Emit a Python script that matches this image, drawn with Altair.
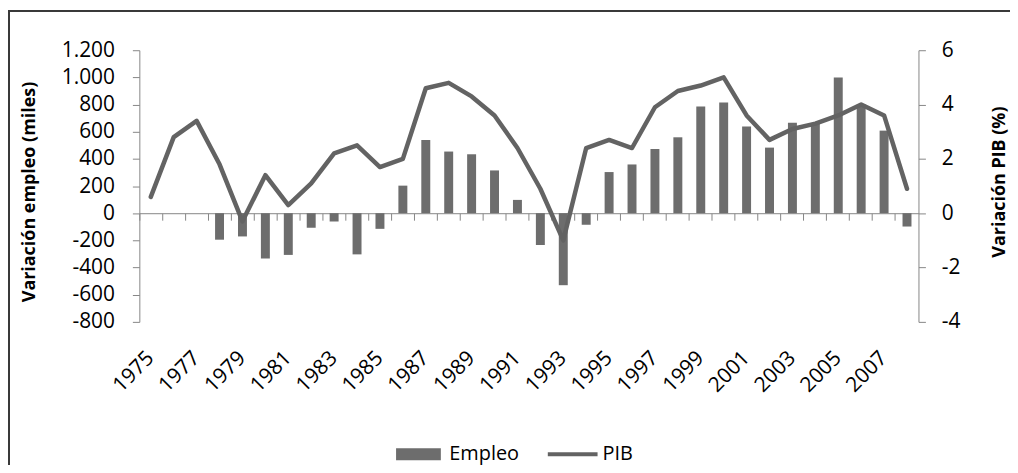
import altair as alt
import pandas as pd

years = [1975, 1976, 1977, 1978, 1979, 1980, 1981, 1982, 1983, 1984, 1985, 1986,
         1987, 1988, 1989, 1990, 1991, 1992, 1993, 1994, 1995, 1996, 1997, 1998,
         1999, 2000, 2001, 2002, 2003, 2004, 2005, 2006, 2007, 2008]
empleo = [0, 0, 0, -195, -171, -334, -307, -107, -61, -303, -115, 203,
          539, 454, 434, 315, 98, -234, -530, -85, 303, 359, 473, 559,
          786, 815, 639, 483, 666, 662, 1000, 800, 608, -98]
pib = [0.6, 2.8, 3.4, 1.8, -0.3, 1.4, 0.3, 1.1, 2.2, 2.5, 1.7, 2.0,
       4.6, 4.8, 4.3, 3.6, 2.4, 0.9, -1.0, 2.4, 2.7, 2.4, 3.9, 4.5,
       4.7, 5.0, 3.6, 2.7, 3.1, 3.3, 3.6, 4.0, 3.6, 0.9]
series = ["Empleo", "PIB"]
left_ticks = [-800, -600, -400, -200, 0, 200, 400, 600, 800, 1000, 1200]
right_ticks = [-4, -2, 0, 2, 4, 6]
label_years = [1975, 1977, 1979, 1981, 1983, 1985, 1987, 1989, 1991, 1993,
               1995, 1997, 1999, 2001, 2003, 2005, 2007]

df = pd.DataFrame({"year": years, "Empleo": empleo, "PIB": pib})
legend_df = pd.DataFrame({"serie": series})

FONT = "Open Sans"
GRAY = "#6d6d6d"
LINE_GRAY = "#636363"
AXIS_GRAY = "#868686"
W, H = 783, 273
zero_off = H - H * (1200 / 2000.0)  # distance from bottom to zero

xscale = alt.Scale(paddingInner=0, paddingOuter=0)

bars = alt.Chart(df).mark_bar(size=9, color=GRAY).encode(
    x=alt.X("year:O", scale=xscale, title=None,
            axis=alt.Axis(orient="bottom", values=label_years, labelAngle=-45,
                          labelAlign="right", labelBaseline="middle",
                          labelPadding=33, ticks=False, domain=False,
                          labelFont=FONT, labelFontSize=21, labelColor="black")),
    y=alt.Y("Empleo:Q", scale=alt.Scale(domain=[-800, 1200], nice=False, zero=False),
            title="Variación empleo (miles)",
            axis=alt.Axis(orient="left", values=left_ticks, grid=False,
                          labelExpr="replace(replace(format(datum.value, ','), ',', '.'), '\u2212', '-')",
                          tickSize=7, tickColor=AXIS_GRAY, domainColor=AXIS_GRAY,
                          labelPadding=18, labelFont=FONT, labelFontSize=21,
                          labelColor="black", titleFont=FONT, titleFontSize=18,
                          titleFontWeight="bold", titleColor="black",
                          titleAngle=-90, titleX=-110, titleY=142,
                          titleAlign="center", titleBaseline="middle")),
)

line = alt.Chart(df).mark_line(color=LINE_GRAY, strokeWidth=4.5,
                               strokeCap="round", strokeJoin="round").encode(
    x=alt.X("year:O", scale=xscale, title=None,
            axis=alt.Axis(orient="bottom", labels=False, ticks=True, tickSize=7,
                          bandPosition=0, domain=True, domainColor=AXIS_GRAY,
                          tickColor=AXIS_GRAY, offset=-zero_off)),
    y=alt.Y("PIB:Q", scale=alt.Scale(domain=[-4, 6], nice=False, zero=False),
            title="Variación PIB (%)",
            axis=alt.Axis(orient="right", values=right_ticks, grid=False,
                          labelExpr="replace(format(datum.value, 'd'), '\u2212', '-')",
                          tickSize=7, tickColor=AXIS_GRAY, domainColor=AXIS_GRAY,
                          labelPadding=16, labelFont=FONT, labelFontSize=21,
                          labelColor="black", titleFont=FONT, titleFontSize=18,
                          titleFontWeight="bold", titleColor="black",
                          titleAngle=-90, titleX=81, titleY=132,
                          titleAlign="center", titleBaseline="middle")),
)

# compact symbol box (20px) with wide custom paths drawn beyond it
leg = alt.Legend(title=None, orient="none", direction="horizontal",
                 legendX=270.5, legendY=396, symbolSize=400,
                 symbolStrokeWidth=0, symbolOpacity=1, labelFont=FONT,
                 labelFontSize=20, labelColor="black",
                 labelOffset=21, columnPadding=28)

legend_layer = alt.Chart(legend_df).mark_point(filled=True, size=400, strokeWidth=0,
                                               opacity=1).encode(
    shape=alt.Shape("serie:N",
                    scale=alt.Scale(domain=series,
                                    range=["M-2.25,-0.6L2.25,-0.6L2.25,0.6L-2.25,0.6Z",
                                           "M-2.4,-0.2L2.6,-0.2L2.6,0.2L-2.4,0.2Z"]),
                    legend=leg),
    color=alt.Color("serie:N", scale=alt.Scale(domain=series, range=[GRAY, LINE_GRAY]),
                    legend=leg),
).transform_filter("false")

frame_top = alt.Chart(df).mark_rule(color="#3a3a3a", strokeWidth=2).encode(
    x=alt.value(-132), x2=alt.value(W + 200), y=alt.value(-39.3))
frame_left = alt.Chart(df).mark_rule(color="#3a3a3a", strokeWidth=2).encode(
    x=alt.value(-131), y=alt.value(-40), y2=alt.value(H + 300))

chart = alt.layer(bars, line, legend_layer, frame_top, frame_left).resolve_scale(
    y="independent"
).resolve_axis(x="independent").properties(
    width=W, height=H,
    autosize=alt.AutoSizeParams(type="none"),
    padding={"left": 132, "top": 41.3, "right": 92, "bottom": 143},
).configure_view(stroke=None)

chart.save("out.html", embed_options={"renderer": "svg", "actions": False})
